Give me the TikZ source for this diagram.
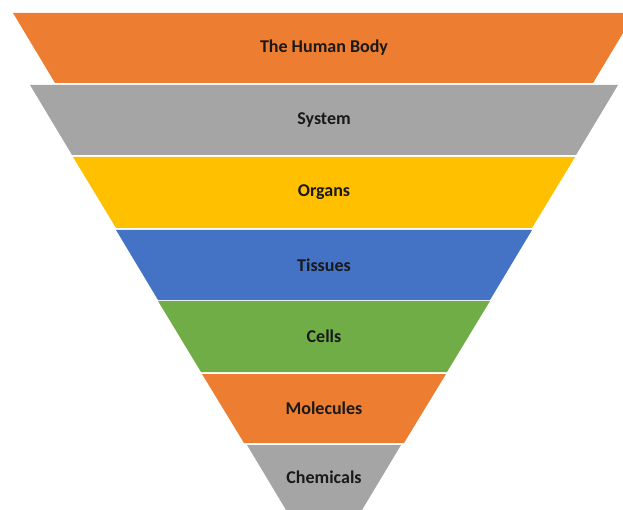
\documentclass[tikz,border=0pt]{standalone}
\usepackage{fontspec}
\setmainfont{Carlito}
\definecolor{cOrange}{HTML}{ED7D31}
\definecolor{cGray}{HTML}{A5A5A5}
\definecolor{cYellow}{HTML}{FFC000}
\definecolor{cBlue}{HTML}{4472C4}
\definecolor{cGreen}{HTML}{70AD47}
\newcommand{\pyrband}[7]{%
  \fill[#5] ({324-#3},#1) -- ({324+#3},#1) -- ({324+#4},#2) -- ({324-#4},#2) -- cycle;
  \node[lbl] (#6) at (324,{(#1+#2)/2}) {#7};}
\begin{document}
\begin{tikzpicture}[x=1pt,y=-1pt,
  lbl/.style={font=\bfseries\fontsize{18}{21}\selectfont, text=black!90, inner sep=0pt}]
\useasboundingbox (0,0) rectangle (623,510);
\clip (0,0) rectangle (623,510);
\pyrband{13}{83}{311}{269}{cOrange}{body}{The Human Body}
\pyrband{85}{155}{294}{252}{cGray}{system}{System}
\pyrband{157}{228}{251}{208}{cYellow}{organs}{Organs}
\pyrband{230}{300}{208}{166}{cBlue}{tissues}{Tissues}
\pyrband{301}{372}{166}{123}{cGreen}{cells}{Cells}
\pyrband{374}{443}{122}{80}{cOrange}{molecules}{Molecules}
\pyrband{445}{510}{77}{38}{cGray}{chemicals}{Chemicals}
\end{tikzpicture}
\end{document}
